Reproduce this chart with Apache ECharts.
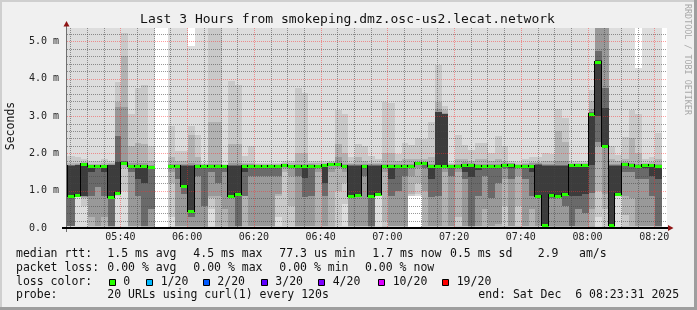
<!DOCTYPE html>
<html>
<head>
<meta charset="utf-8">
<title>SmokePing</title>
<script src="https://cdn.jsdelivr.net/npm/echarts@6.0.0/dist/echarts.min.js"></script>
<style>
html,body{margin:0;padding:0;background:#f0f0f0;}
#chart{width:697px;height:310px;}
</style>
</head>
<body>
<div id="chart"></div>
<script>
// ---------------- data ----------------
const chartTitle = 'Last 3 Hours from smokeping.dmz.osc-us2.lecat.network';
const yAxisName = 'Seconds';
const watermark = 'RRDTOOL / TOBI OETIKER';

// x axis: minutes after 05:00
const xTickMinutes = [40, 60, 80, 100, 120, 140, 160, 180, 200];
const xTickLabels = ['05:40','06:00','06:20','06:40','07:00','07:20','07:40','08:00','08:20'];
const xMinorMinutes = [25,30,35,45,50,55,65,70,75,85,90,95,105,110,115,125,130,135,145,150,155,165,170,175,185,190,195];
// y axis: milliseconds
const yTickValues = [0, 1, 2, 3, 4, 5];
const yTickLabels = ['0.0', '1.0 m', '2.0 m', '3.0 m', '4.0 m', '5.0 m'];
const yMinorValues = [0.2,0.4,0.6,0.8,1.2,1.4,1.6,1.8,2.2,2.4,2.6,2.8,3.2,3.4,3.6,3.8,4.2,4.4,4.6,4.8,5.2];

// RRD steps: 2 minutes each, first (partial) step begins at 05:22:18
const firstStepMinute = 22.3;
const stepMinutes = 2;

// median rtt per step (ms)
const median = [
 1.66,0.85,0.89,1.71,1.67,1.66,1.65,0.83,0.94,1.74,
 1.67,1.66,1.66,1.64,null,null,1.66,1.66,1.13,0.45,
 1.66,1.66,1.66,1.66,1.66,0.85,0.90,1.66,1.66,1.66,
 1.66,1.66,1.66,1.70,1.66,1.66,1.66,1.66,1.66,1.68,
 1.71,1.71,1.66,0.85,0.88,1.66,0.87,0.90,1.66,1.66,
 1.66,1.66,1.66,1.73,1.73,1.66,1.66,1.66,1.66,1.66,
 1.70,1.70,1.65,1.65,1.65,1.65,1.69,1.69,1.66,1.66,
 1.67,0.87,0.08,0.89,0.85,0.91,1.68,1.68,1.68,3.06,
 4.46,2.21,0.08,0.92,1.71,1.68,1.66,1.68,1.68,1.66,
 null];

// smoke bands (ms): outermost (lightest) band 1 .. innermost (darkest) band 6
const band1Low = [
 0,0,0,0,0,0,0,0,0,0, 0,0,0,0,null,null,0,0,0,0, 0,0,0,0,0,0,0,0,0,0,
 0,0,0,0,0,0,0,0,0,0, 0,0,0,0,0,0,0,0,0,0, 0,0,0.85,0.87,0,0,0,0,0,0,
 0,0,0,0,0,0,0,0,0,0, 0,0,0,0,0,0,0,0,0,0, 0,0,0,0,0,0,0,0,0,0, null];
const band1High = [
 6,6,6,6,6,6,6,6,6,6, 6,6,6,6,null,null,6,6,6,4.87, 6,6,6,6,6,6,6,6,6,6,
 6,6,6,6,6,6,6,6,6,6, 6,6,6,6,6,6,6,6,6,6, 6,6,6,6,6,6,6,6,6,6,
 6,6,6,6,6,6,6,6,6,6, 6,6,6,6,6,6,6,6,6,6, 6,6,6,6,6,6,4.28,6,6,6, null];
const band2Low = [
 .05,.05,.85,.6,.03,.03,.03,.03,.85,1.0,
 .03,.03,.02,.02,null,null,.3,.04,.04,.03,
 .03,.03,.5,.03,.03,.03,.03,.03,.03,.03,
 .03,.03,.3,.05,.05,.03,.03,.03,.03,.03,
 .03,.05,.64,.03,.03,.03,.03,.85,.03,.03,
 .03,.03,.86,.9,.03,.03,.03,.03,.03,.03,
 .03,.03,.03,.03,.03,.03,.03,.03,.03,.03,
 .03,.03,.03,.03,.03,.03,.03,.03,.03,.03,
 .3,.03,.03,.85,.03,.03,.03,.03,.03,.03, null];
const band2High = [
 1.94,1.94,1.9,1.85,1.8,1.8,1.85,1.8,3.92,5.23,
 3.05,3.74,3.83,2.2,null,null,2.74,2.07,2.07,2.74,
 2.5,1.75,6,6,1.72,3.95,3.83,1.94,2.19,1.75,
 1.75,1.75,1.75,1.8,1.8,3.74,3.63,1.8,1.8,1.8,
 1.8,3.17,3.05,1.9,2.25,2.2,1.94,1.85,3.37,3.35,
 1.98,2.29,2.22,2.4,2.38,2.83,4.37,3.28,1.75,2.5,
 2.22,2.1,2.28,2.28,2.0,2.47,2.2,1.8,1.78,1.85,
 1.9,1.9,2.0,1.98,3.2,2.94,1.8,1.8,1.8,3.7,
 6,6,2.21,1.95,2.45,3.17,3.05,1.85,1.9,2.54, null];
const band3Low = [
 .06,.06,.87,.8,.05,.05,.05,.04,.9,1.6,
 .05,.05,.03,.04,null,null,1.2,.05,.05,.04,
 .04,.04,.8,.05,.05,.04,.04,.05,.05,.05,
 .05,.05,.85,1.5,.6,.05,.05,.05,.05,.05,
 .05,1.0,1.2,.05,.05,.05,.04,.87,.2,.05,
 .05,.05,.9,1.2,.05,.05,.05,.05,.05,.3,
 .05,.04,.05,.05,.05,.05,.6,.05,.6,.05,
 .05,.05,.04,.04,.04,.04,.04,.04,.04,.04,
 .98,.5,.04,.88,.35,.05,.05,.05,.05,.04, null];
const band3High = [
 1.75,1.75,1.75,1.76,1.72,1.72,1.75,1.75,3.37,4.62,
 2.2,2.29,2.25,1.8,null,null,1.9,1.8,1.8,2.5,
 1.9,1.72,2.83,2.83,1.70,2.25,2.25,1.75,1.75,1.72,
 1.72,1.72,1.72,1.74,1.74,2.0,2.0,1.74,1.74,1.74,
 1.76,2.25,2.0,1.75,1.9,1.8,1.75,1.75,2.0,2.0,
 1.8,1.85,1.85,1.85,1.85,1.9,3.37,3.15,1.72,1.85,
 1.85,1.8,1.85,1.85,1.8,1.85,1.8,1.75,1.72,1.75,
 1.76,1.76,1.8,1.8,2.6,2.3,1.74,1.74,1.74,3.4,
 6,6,1.85,1.8,1.85,2.4,2.0,1.75,1.76,1.85, null];
const band4Low = [
 .06,.06,.88,.84,.3,.06,.3,.05,.92,1.7,
 .06,.06,.05,.06,null,null,1.5,.06,.06,.05,
 .05,.05,.85,.85,.5,.05,.05,.85,.06,.06,
 .06,.06,.9,1.6,1.4,.06,.06,.06,1.5,.06,
 1.5,1.6,1.5,.06,.06,.06,.05,.88,1.5,.06,
 .06,.06,1.4,1.6,1.0,.06,.06,1.5,.06,1.5,
 .06,.05,.06,.5,.06,.1,1.3,.06,1.4,.06,
 .5,.06,.05,.05,.05,.05,.05,.05,.05,.5,
 2.2,.9,.05,.9,.85,.8,.06,.06,.06,.05, null];
const band4High = [
 1.70,1.70,1.72,1.74,1.70,1.70,1.70,1.72,3.25,3.25,
 1.75,1.75,1.75,1.7,null,null,1.72,1.72,1.72,1.75,
 1.72,1.70,1.72,1.72,1.69,1.75,1.75,1.72,1.72,1.70,
 1.70,1.70,1.70,1.72,1.70,1.72,1.72,1.72,1.70,1.72,
 1.74,1.9,1.72,1.72,1.72,1.72,1.72,1.72,1.72,1.72,
 1.72,1.72,1.72,1.76,1.76,1.72,3.2,3.08,1.70,1.72,
 1.76,1.75,1.72,1.72,1.72,1.72,1.74,1.73,1.69,1.72,
 1.73,1.73,1.72,1.72,1.8,1.8,1.72,1.72,1.72,3.2,
 5.6,6,1.72,1.72,1.76,1.74,1.72,1.72,1.72,1.72, null];
const band5Low = [
 .06,.06,.89,.85,.85,1.1,.85,.06,.93,1.72,
 1.5,.85,.06,.5,null,null,1.6,1.3,.9,.3,
 1.4,.6,1.5,1.2,1.5,.85,.06,.86,1.4,1.4,
 1.4,1.4,1.4,1.65,1.6,1.4,.82,.87,1.6,.85,
 1.65,1.68,1.6,.8,.85,1.4,.06,.89,1.6,.85,
 1.0,1.4,1.6,1.7,1.6,.82,.87,1.6,1.4,1.6,
 1.3,.06,.85,1.4,.8,1.2,1.6,1.3,1.6,1.3,
 .85,.8,.06,.8,.8,.6,.06,.5,.4,.95,
 2.3,2.2,.06,.91,1.5,1.5,1.3,1.3,.85,.06, null];
const band5High = [
 1.68,1.68,1.70,1.72,1.68,1.68,1.68,1.70,2.47,1.8,
 1.69,1.70,1.70,1.66,null,null,1.68,1.68,1.69,1.70,
 1.68,1.68,1.68,1.68,1.68,1.70,1.70,1.69,1.68,1.68,
 1.68,1.68,1.68,1.71,1.68,1.68,1.69,1.69,1.68,1.70,
 1.72,1.75,1.68,1.69,1.69,1.68,1.69,1.69,1.68,1.69,
 1.68,1.68,1.68,1.74,1.74,1.69,3.12,3.06,1.68,1.68,
 1.72,1.72,1.68,1.68,1.68,1.68,1.71,1.71,1.68,1.68,
 1.70,1.71,1.70,1.69,1.69,1.69,1.70,1.70,1.70,3.1,
 4.74,3.76,1.69,1.69,1.73,1.70,1.68,1.70,1.70,1.69, null];
const band6Low = [
 .85,.85,.89,.85,1.5,1.6,1.5,.83,.94,1.74,
 1.6,1.3,1.2,1.6,null,null,1.64,1.6,1.13,.45,
 1.62,1.6,1.62,1.62,1.62,.85,.90,1.5,1.62,1.62,
 1.62,1.62,1.62,1.68,1.63,1.62,1.35,1.6,1.63,1.2,
 1.69,1.7,1.63,.85,.88,1.62,.87,.90,1.63,1.3,
 1.6,1.62,1.63,1.72,1.7,1.3,1.66,1.66,1.62,1.63,
 1.5,1.38,1.55,1.6,1.6,1.6,1.66,1.62,1.63,1.6,
 1.5,.87,.08,.89,.85,.91,.85,.85,.9,1.7,
 3.0,2.21,.08,.92,1.66,1.64,1.6,1.62,1.4,1.3, null];
const band6High = [
 1.67,1.66,1.68,1.71,1.67,1.67,1.66,1.68,1.78,1.76,
 1.68,1.67,1.67,1.65,null,null,1.67,1.67,1.67,1.67,
 1.67,1.67,1.67,1.67,1.67,1.67,1.67,1.67,1.67,1.67,
 1.67,1.67,1.67,1.705,1.67,1.67,1.67,1.67,1.67,1.69,
 1.715,1.72,1.67,1.67,1.67,1.67,1.67,1.67,1.67,1.67,
 1.67,1.67,1.67,1.735,1.735,1.67,3.1,3.05,1.67,1.67,
 1.71,1.71,1.66,1.66,1.66,1.66,1.70,1.70,1.67,1.67,
 1.68,1.70,1.66,1.67,1.67,1.67,1.69,1.69,1.69,3.06,
 4.5,3.22,1.67,1.67,1.72,1.69,1.67,1.69,1.69,1.67, null];

// legend texts
const rttLabel = 'median rtt:';
const rttStats = ['1.5 ms avg', '4.5 ms max', '77.3 us min', '1.7 ms now', '0.5 ms sd', '2.9', 'am/s'];
const lossLabel = 'packet loss:';
const lossStats = ['0.00 % avg', '0.00 % max', '0.00 % min', '0.00 % now'];
const lossColorLabel = 'loss color:';
const lossColorNames = ['0', '1/20', '2/20', '3/20', '4/20', '10/20', '19/20'];
const lossColorValues = ['#26ff00', '#00b8ff', '#0059ff', '#5e00ff', '#7e00ff', '#dd00ff', '#ff0000'];
const probeLabel = 'probe:';
const probeText = '20 URLs using curl(1) every 120s';
const endText = 'end: Sat Dec  6 08:23:31 2025';

// ---------------- layout / style ----------------
const MONO = '"DejaVu Sans Mono", monospace';
const smokeColors = ['#dddddd', '#c9c9c9', '#b2b2b2', '#999999', '#6a6a6a', '#3c3c3c'];
const bandsLow = [band1Low, band2Low, band3Low, band4Low, band5Low, band6Low];
const bandsHigh = [band1High, band2High, band3High, band4High, band5High, band6High];
const rttX = [107.3, 193.3, 279.3, 372.3, 450, 537.7, 579];
const lossX = [107.3, 193.3, 279.3, 365];
const swatchX = [109, 146, 203, 261, 318, 378, 442];
const swatchTextX = [123.3, 160.7, 217.3, 275.3, 332.7, 392.7, 456.7];
const rowY = [254.5, 268, 282, 295.5];

const stepTime = i => firstStepMinute + i * stepMinutes;

const smokeData = [];
const medianData = [];
median.forEach((m, i) => {
  if (m == null) return;
  const row = [stepTime(i)];
  for (let b = 0; b < 6; b++) { row.push(bandsLow[b][i], bandsHigh[b][i]); }
  smokeData.push(row);
  const prev = i > 0 && median[i - 1] != null ? median[i - 1] : NaN;
  medianData.push([stepTime(i), m, prev]);
});

function clipRect(r, cs) {
  return echarts.graphic.clipRectByRect(r, {x: cs.x, y: cs.y, width: cs.width, height: cs.height});
}

function renderSmoke(params, api) {
  const cs = params.coordSys;
  const t = api.value(0);
  const children = [];
  for (let b = 0; b < 6; b++) {
    const lo = api.value(1 + 2 * b), hi = api.value(2 + 2 * b);
    if (isNaN(lo) || isNaN(hi)) continue;
    const p0 = api.coord([t, hi]);
    const p1 = api.coord([t + stepMinutes, lo]);
    const x0 = Math.round(p0[0]), x1 = Math.round(p1[0]);
    const y0 = Math.round(p0[1]), y1 = Math.round(p1[1]);
    const r = clipRect({x: x0, y: y0, width: x1 - x0, height: y1 - y0}, cs);
    if (r) children.push({type: 'rect', shape: r, style: {fill: smokeColors[b]}});
  }
  return {type: 'group', children};
}

function renderMedian(params, api) {
  const cs = params.coordSys;
  const t = api.value(0), m = api.value(1), pm = api.value(2);
  const a = api.coord([t, m]), b = api.coord([t + stepMinutes, m]);
  const x0 = Math.max(Math.round(a[0]), cs.x);
  const x1 = Math.min(Math.round(b[0]), cs.x + cs.width);
  const y = Math.round(a[1]);
  const children = [];
  if (!isNaN(pm)) {
    const yp = Math.round(api.coord([t, pm])[1]);
    children.push({type: 'rect', shape: {x: x0 - 1, y: Math.min(y, yp) - 1, width: 1, height: Math.abs(y - yp) + 2},
      style: {fill: '#000000'}});
  }
  children.push({type: 'rect', shape: {x: x0, y: y - 1, width: x1 - x0, height: 3}, style: {fill: lossColorValues[0]}});
  return {type: 'group', children};
}

const gridXData = xMinorMinutes.map(v => [v, 0, 0]).concat(xTickMinutes.map(v => [v, 0, 1]));
const gridYData = yMinorValues.map(v => [30, v, 0]).concat(yTickValues.filter(v => v > 0).map(v => [30, v, 1]));
const MINOR = 'rgba(70,70,70,0.55)';
const MAJOR = 'rgba(255,40,40,0.45)';

// dotted grid: 1px dots with 1px gaps, drawn as tiny rects so they stay crisp
function dots(x1, y1, x2, y2, color) {
  const children = [];
  if (x1 === x2) {
    for (let y = y1; y < y2; y += 2) children.push({type: 'rect', shape: {x: x1, y, width: 1, height: 1}, style: {fill: color}});
  } else {
    for (let x = x1; x < x2; x += 2) children.push({type: 'rect', shape: {x, y: y1, width: 1, height: 1}, style: {fill: color}});
  }
  return {type: 'group', children};
}
function renderGridX(params, api) {
  const cs = params.coordSys;
  const x = Math.round(api.coord([api.value(0), 0])[0]);
  return dots(x, cs.y, x, cs.y + cs.height, api.value(2) ? MAJOR : MINOR);
}
function renderGridY(params, api) {
  const cs = params.coordSys;
  const y = Math.round(api.coord([30, api.value(1)])[1]);
  return dots(cs.x, y, cs.x + cs.width, y, api.value(2) ? MAJOR : MINOR);
}

function txt(text, x, y, size, extra) {
  return Object.assign({type: 'text', x, y, silent: true, z: 100,
    style: {text, fill: '#111', font: size + 'px ' + MONO, textAlign: 'left', textVerticalAlign: 'middle',
      align: 'left', verticalAlign: 'middle'}}, extra || {});
}

const graphics = [];
// frame
graphics.push({type: 'rect', shape: {x: 0, y: 0, width: 697, height: 2}, style: {fill: '#cfcfcf'}, z: 90, silent: true});
graphics.push({type: 'rect', shape: {x: 0, y: 0, width: 2, height: 310}, style: {fill: '#cfcfcf'}, z: 90, silent: true});
graphics.push({type: 'rect', shape: {x: 0, y: 307, width: 697, height: 3}, style: {fill: '#9e9e9e'}, z: 91, silent: true});
graphics.push({type: 'rect', shape: {x: 694, y: 0, width: 3, height: 310}, style: {fill: '#9e9e9e'}, z: 91, silent: true});
// axes lines and arrows
graphics.push({type: 'line', shape: {x1: 66.5, y1: 24, x2: 66.5, y2: 232}, style: {stroke: '#707070', lineWidth: 1}, z: 95, silent: true});
graphics.push({type: 'line', shape: {x1: 62, y1: 228, x2: 669, y2: 228}, style: {stroke: '#000000', lineWidth: 2}, z: 95, silent: true});
graphics.push({type: 'polygon', shape: {points: [[66.5, 21], [63.5, 26.5], [69.5, 26.5]]}, style: {fill: '#8e1414'}, z: 96, silent: true});
graphics.push({type: 'polygon', shape: {points: [[673.5, 228], [668, 225], [668, 231]]}, style: {fill: '#8e1414'}, z: 96, silent: true});
// title, axis name, watermark
graphics.push(txt(chartTitle, 347.5, 19.5, 13, {style: {text: chartTitle, fill: '#111', font: '13px ' + MONO,
  textAlign: 'center', align: 'center', textVerticalAlign: 'middle', verticalAlign: 'middle'}}));
graphics.push(txt(yAxisName, 11, 126, 11.5, {rotation: Math.PI / 2, style: {text: yAxisName, fill: '#111',
  font: '11.5px ' + MONO, textAlign: 'center', align: 'center', textVerticalAlign: 'middle', verticalAlign: 'middle'}}));
graphics.push(txt(watermark, 687.5, 4, 8.4, {rotation: -Math.PI / 2, style: {text: watermark, fill: '#a8a8a8',
  font: '8.4px ' + MONO, textAlign: 'left', align: 'left', textVerticalAlign: 'middle', verticalAlign: 'middle'}}));
// legend rows
graphics.push(txt(rttLabel, 16, rowY[0], 11.5));
rttStats.forEach((s, i) => graphics.push(txt(s, rttX[i], rowY[0], 11.5)));
graphics.push(txt(lossLabel, 16, rowY[1], 11.5));
lossStats.forEach((s, i) => graphics.push(txt(s, lossX[i], rowY[1], 11.5)));
graphics.push(txt(lossColorLabel, 16, rowY[2], 11.5));
lossColorNames.forEach((s, i) => {
  graphics.push({type: 'rect', shape: {x: swatchX[i] + 0.5, y: rowY[2] - 2.5, width: 6, height: 6},
    style: {fill: lossColorValues[i], stroke: '#000', lineWidth: 1}, z: 100, silent: true});
  graphics.push(txt(s, swatchTextX[i], rowY[2], 11.5));
});
graphics.push(txt(probeLabel, 16, rowY[3], 11.5));
graphics.push(txt(probeText, 107.3, rowY[3], 11.5));
graphics.push(txt(endText, 478.3, rowY[3], 11.5));

const chart = echarts.init(document.getElementById('chart'), null, {renderer: 'canvas'});
chart.setOption({
  animation: false,
  backgroundColor: '#f0f0f0',
  grid: {left: 67, top: 28, width: 600, height: 200, show: true, backgroundColor: '#ffffff', borderWidth: 0},
  xAxis: {
    type: 'value', min: 24, max: 203.8,
    axisLine: {show: false}, axisTick: {show: false}, splitLine: {show: false},
    axisLabel: {customValues: xTickMinutes, formatter: v => xTickLabels[xTickMinutes.indexOf(v)] || '',
      fontFamily: MONO, fontSize: 10, color: '#222', margin: 4}
  },
  yAxis: {
    type: 'value', min: 0, max: 5.36,
    axisLine: {show: false}, axisTick: {show: false}, splitLine: {show: false},
    axisLabel: {customValues: yTickValues, formatter: v => yTickLabels[yTickValues.indexOf(v)] || '',
      fontFamily: MONO, fontSize: 10, color: '#222', align: 'left', margin: 38}
  },
  series: [
    {type: 'custom', name: 'smoke', renderItem: renderSmoke, data: smokeData, z: 1, silent: true,
      encode: {x: 0, y: [1, 2]}},
    {type: 'custom', name: 'gridX', renderItem: renderGridX, data: gridXData, z: 2, silent: true, encode: {x: 0, y: 1}},
    {type: 'custom', name: 'gridY', renderItem: renderGridY, data: gridYData, z: 2, silent: true, encode: {x: 0, y: 1}},
    {type: 'custom', name: 'median', renderItem: renderMedian, data: medianData, z: 3, silent: true, encode: {x: 0, y: 1}}
  ],
  graphic: graphics
});
</script>
</body>
</html>
